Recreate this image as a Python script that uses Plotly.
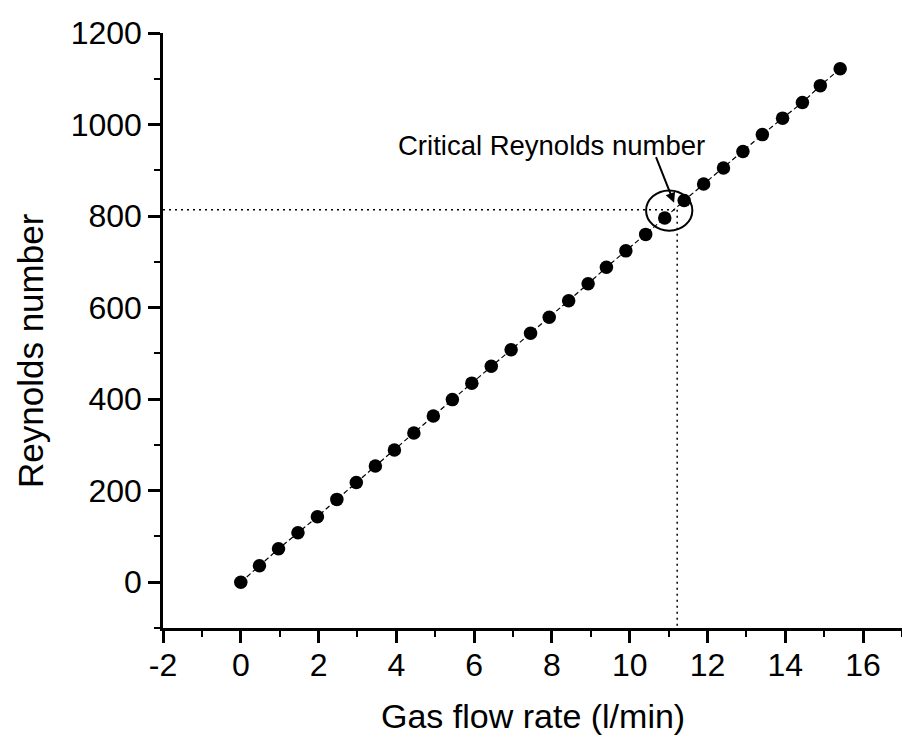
import plotly.graph_objects as go

# Data
flow_rate = [0.00, 0.48, 0.97, 1.47, 1.97, 2.47, 2.97, 3.46, 3.95, 4.45, 4.95,
             5.44, 5.94, 6.44, 6.95, 7.45, 7.93, 8.43, 8.93, 9.40, 9.90,
             10.41, 10.90, 11.40, 11.90, 12.41, 12.91, 13.41, 13.93, 14.44,
             14.90, 15.41]
reynolds = [0, 36, 73, 108, 143, 181, 218, 254, 289, 326, 363, 399, 435, 472,
            508, 544, 579, 615, 652, 688, 724, 760, 796, 834, 870, 905, 941,
            978, 1014, 1048, 1085, 1122]

critical_flow = 11.22
critical_re = 814

x_ticks = [-2, 0, 2, 4, 6, 8, 10, 12, 14, 16]
x_tick_labels = ["-2", "0", "2", "4", "6", "8", "10", "12", "14", "16"]
y_ticks = [0, 200, 400, 600, 800, 1000, 1200]
y_tick_labels = ["0", "200", "400", "600", "800", "1000", "1200"]

FONT = "Liberation Sans, Arial, sans-serif"

fig = go.Figure()

# dotted guide lines
fig.add_trace(go.Scatter(
    x=[-2, critical_flow], y=[critical_re, critical_re], mode="lines",
    line=dict(color="black", width=1.5, dash="2px,4px"), hoverinfo="skip",
    showlegend=False))
fig.add_trace(go.Scatter(
    x=[critical_flow, critical_flow], y=[critical_re, -100], mode="lines",
    line=dict(color="black", width=1.5, dash="2px,4px"), hoverinfo="skip",
    showlegend=False))

# data
fig.add_trace(go.Scatter(
    x=flow_rate, y=reynolds, mode="lines+markers",
    line=dict(color="black", width=1.2, dash="5px,3px"),
    marker=dict(color="black", size=13.5, symbol="circle"),
    showlegend=False))

# circle around critical point
fig.add_shape(type="circle", xref="x", yref="y",
              x0=10.42, x1=11.61, y0=768, y1=856,
              line=dict(color="black", width=2))

# annotation text
fig.add_annotation(
    xref="paper", yref="paper",
    x=(551 - 163) / 739, y=(628 - 145) / 595,
    text="Critical Reynolds number", showarrow=False,
    xanchor="center", yanchor="middle",
    font=dict(family=FONT, size=27.5, color="black"))
# arrow
fig.add_annotation(
    x=11.14, y=829, ax=10.66, ay=932, xref="x", yref="y",
    axref="x", ayref="y", text="", showarrow=True,
    arrowhead=2, arrowsize=1, arrowwidth=2, arrowcolor="black")

# axis titles
fig.add_annotation(
    xref="paper", yref="paper", x=(30 - 163) / 739, y=(628 - 351) / 595,
    text="Reynolds number", textangle=-90, showarrow=False,
    xanchor="center", yanchor="middle",
    font=dict(family=FONT, size=35, color="black"))
fig.add_annotation(
    xref="paper", yref="paper", x=0.5, y=(628 - 716) / 595,
    text="Gas flow rate (l/min)", showarrow=False,
    xanchor="center", yanchor="middle",
    font=dict(family=FONT, size=34, color="black"))

axis_common = dict(
    showgrid=False, zeroline=False, showline=True, linecolor="black",
    linewidth=2.5, ticks="outside", ticklen=12, tickwidth=2.5,
    tickcolor="black", tickfont=dict(family=FONT, size=32, color="black"),
)

fig.update_xaxes(range=[-2, 17], tickvals=x_ticks, ticktext=x_tick_labels,
                 ticklabelstandoff=-5,
                 minor=dict(dtick=1, tick0=0, ticks="outside", ticklen=6,
                            tickwidth=2, tickcolor="black"),
                 **axis_common)
fig.update_yaxes(range=[-100, 1200], tickvals=y_ticks, ticktext=y_tick_labels,
                 minor=dict(dtick=100, tick0=0, ticks="outside", ticklen=6,
                            tickwidth=2, tickcolor="black"),
                 **axis_common)

fig.update_layout(
    width=902, height=737,
    margin=dict(l=163, r=0, t=33, b=109),
    plot_bgcolor="white", paper_bgcolor="white",
    font=dict(family=FONT, color="black"),
)

fig.write_html("out.html")
